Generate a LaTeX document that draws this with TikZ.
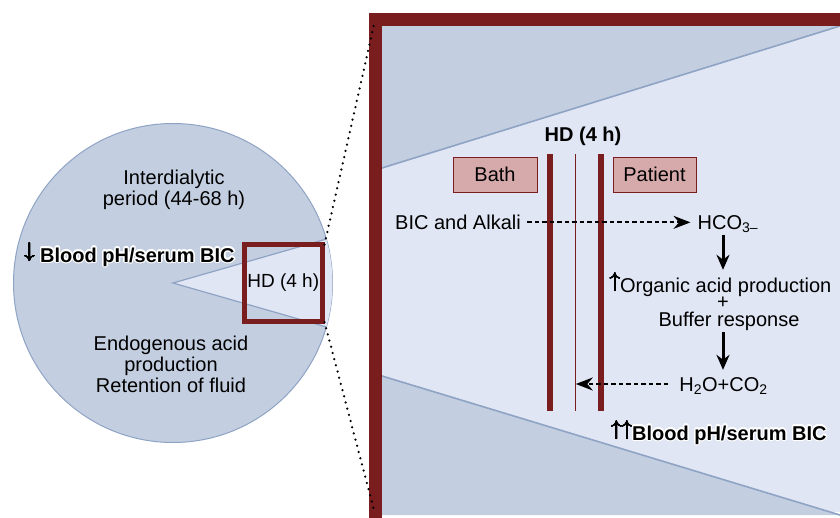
\documentclass[tikz,border=0pt]{standalone}
\usepackage{fontspec}
\setmainfont{Liberation Sans}
\usepackage{contour}
\contourlength{1.4pt}
\usetikzlibrary{arrows.meta}
\definecolor{figred}{RGB}{122,29,31}
\definecolor{figdisc}{RGB}{195,207,224}
\definecolor{figpale}{RGB}{225,230,244}
\definecolor{figedge}{RGB}{143,163,196}
\definecolor{figbox}{RGB}{214,169,171}
\newcommand\uparr{\resizebox{!}{19pt}{\raisebox{\depth}{{\contourlength{0.4pt}\contour{black}{$\uparrow$}}}}}
\newcommand\dnarr{\resizebox{!}{19pt}{\raisebox{\depth}{{\contourlength{0.4pt}\contour{black}{$\downarrow$}}}}}
\tikzset{
  txt/.style  ={font=\fontsize{20}{21}\selectfont, inner sep=0pt, align=center},
  txtb/.style ={font=\fontsize{20}{21}\selectfont\bfseries, inner sep=0pt},
  side/.style ={draw=figred, line width=0.9pt, fill=figbox, minimum width=84pt, minimum height=35pt,
                font=\fontsize{20}{21}\selectfont, inner sep=0pt},
  memb/.style ={draw=figred, line width=6pt},
  flow/.style ={draw=black, line width=2pt, dash pattern=on 4.5pt off 3pt, -{Stealth[length=17pt,width=13pt]}},
  down/.style ={draw=black, line width=3pt, -{Stealth[length=15pt,width=13pt]}},
  dots/.style ={draw=black, line width=2.5pt, line cap=round, dash pattern=on 0pt off 6.4pt},
  rim/.style  ={draw=figedge, line width=1.6pt},
}

\begin{document}
\begin{tikzpicture}[x=1pt,y=-1pt]
  \useasboundingbox (0,0) rectangle (840,517);
  % left disc with the dialysis wedge
  \draw[fill=figdisc,draw=figedge,line width=1pt] (173,283) circle[radius=159.5];
  \fill[figpale] (173,283) -- ++(16:159.5) arc[start angle=16,end angle=-16,radius=159.5] -- cycle;
  \draw[rim,line width=1.2pt] (173,283) ++(16:159.5) -- (173,283) -- ++(-16:159.5);
  \node[txt,anchor=north] (inter) at (174,170) {Interdialytic\\period (44-68 h)};
  \node[txt,anchor=base west] (lowbic) at (24,262) {\dnarr\ \contour{white}{\textbf{Blood pH/serum BIC}}};
  \node[txt,anchor=north] (endo) at (171,336) {Endogenous acid\\production\\Retention of fluid};
  \node[draw=figred,line width=5pt,minimum width=77.5pt,minimum height=77.5pt,inner sep=0pt,
        font=\fontsize{19}{20}\selectfont] (hdbox) at (283.25,282.75) {HD (4 h)};
  % enlarged view
  \fill[figpale] (382,26) rectangle (847,512);
  \fill[figdisc] (382,26) -- (840,26) -- (382,168) -- cycle;
  \fill[figdisc] (382,376) -- (840,515) -- (382,515) -- cycle;
  \draw[rim] (382,168) -- (840,26);
  \draw[rim] (382,376) -- (840,515);
  \draw[draw=figred,line width=13pt] (375.5,19.5) rectangle (860,524);
  \coordinate (ftop) at (375,20);
  \coordinate (fbot) at (374,510);
  \draw[dots] ([yshift=-3pt]hdbox.north east) -- (ftop);
  \draw[dots] ([yshift=2pt]hdbox.south east) -- (fbot);
  % membrane
  \draw[memb] (550.3,154) -- (550.3,411);
  \draw[draw=figred,line width=1.3pt] (575.8,154) -- (575.8,411);
  \draw[memb] (600.5,154) -- (600.5,411);
  \coordinate (thin) at (575.8,384);
  \node[txtb,anchor=base] (hdtop) at (583,141) {HD (4 h)};
  \node[side] (bath) at (495,174.5) {Bath};
  \node[side,minimum width=83pt] (patient) at (654.5,174.5) {Patient};
  % fluxes
  \node[txt,anchor=base east] (bic) at (521,229.5) {BIC and Alkali};
  \node[txt,anchor=base west] (hco) at (697.5,229.5) {HCO\textsubscript{3–}};
  \draw[flow,shorten <=6pt,shorten >=7pt] (bic.east) -- (bic.east -| hco.west);
  \node[txt,anchor=base] (org) at (720.5,292) {\uparr Organic acid production};
  \node[txt] (plus) at (723,303) {+};
  \node[txt,anchor=base] (buf) at (729,326) {Buffer response};
  \node[txt,anchor=base] (h2o) at (723.5,391) {H\textsubscript{2}O+CO\textsubscript{2}};
  \draw[down,shorten <=2pt,shorten >=3pt] (plus |- hco.south) -- (plus |- org.north);
  \draw[down,shorten <=2pt,shorten >=7pt] (plus |- buf.south) -- (plus |- h2o.north);
  \draw[flow,shorten <=11pt] (h2o.west |- thin) -- (thin);
  \node[txt,anchor=base west] (highbic) at (611,440) {\uparr\uparr\contour{white}{\textbf{Blood pH/serum BIC}}};
\end{tikzpicture}
\end{document}
